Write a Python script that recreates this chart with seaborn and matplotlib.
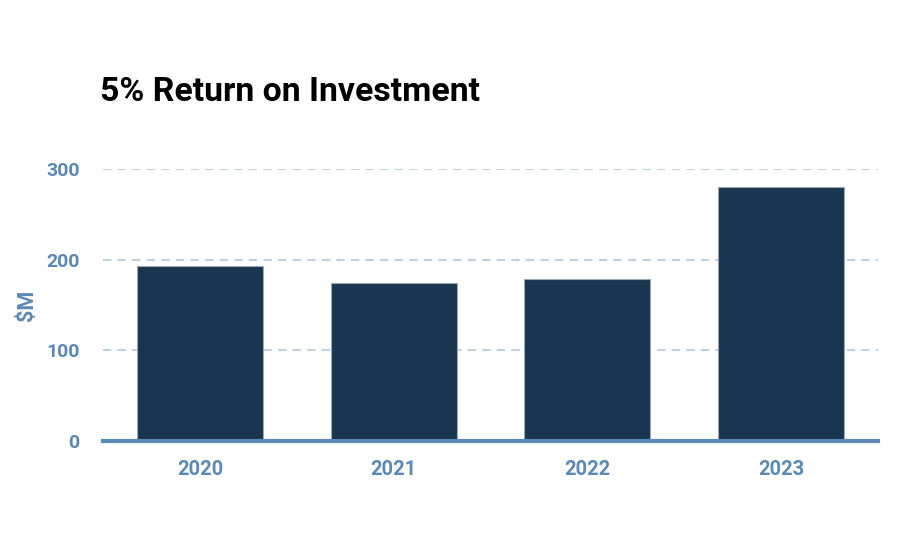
import numpy as np
import pandas as pd
import matplotlib
matplotlib.use('Agg')
import matplotlib.pyplot as plt
import seaborn as sns

years = ['2020', '2021', '2022', '2023']
roi = [193, 174, 179, 280]

df = pd.DataFrame({'year': years, 'roi': roi})

sns.set_theme(style='white')
plt.rcParams['font.family'] = ['Roboto', 'DejaVu Sans']

blue = '#5b88b4'
navy = '#1a3550'

fig = plt.figure(figsize=(9, 5.57), dpi=100)
ax = fig.add_axes([103/900, 1-441/557, 775/900, (441-169)/557])

sns.barplot(data=df, x='year', y='roi', color=navy, width=0.65, saturation=1,
            edgecolor='#9aa8b6', linewidth=0.8, ax=ax, zorder=3)

ax.set_xlim(-0.5, 3.5)
ax.set_ylim(0, 300)
ax.set_yticks([0, 100, 200, 300])
ax.yaxis.grid(True, color='#c2d1df', linewidth=1.5, linestyle=(0, (4, 3)), zorder=0)
ax.xaxis.grid(False)
for s in ['top', 'right', 'left']:
    ax.spines[s].set_visible(False)
ax.spines['bottom'].set_color(blue)
ax.spines['bottom'].set_linewidth(3)
ax.spines['bottom'].set_zorder(4)

ax.tick_params(axis='y', length=0, pad=17, labelsize=14, labelcolor=blue)
ax.tick_params(axis='x', length=0, pad=14, labelsize=14.5, labelcolor=blue)
for t in ax.get_yticklabels() + ax.get_xticklabels():
    t.set_fontweight('bold')

ax.set_xlabel('')
ax.set_ylabel('$M', color=blue, fontsize=15.5, fontweight='bold', labelpad=6)

fig.text(100/900, 1-101/557, '5% Return on Investment', fontsize=24.3,
         fontweight='bold', color='black', ha='left', va='baseline')

fig.savefig('out.png', dpi=100, facecolor='white')
